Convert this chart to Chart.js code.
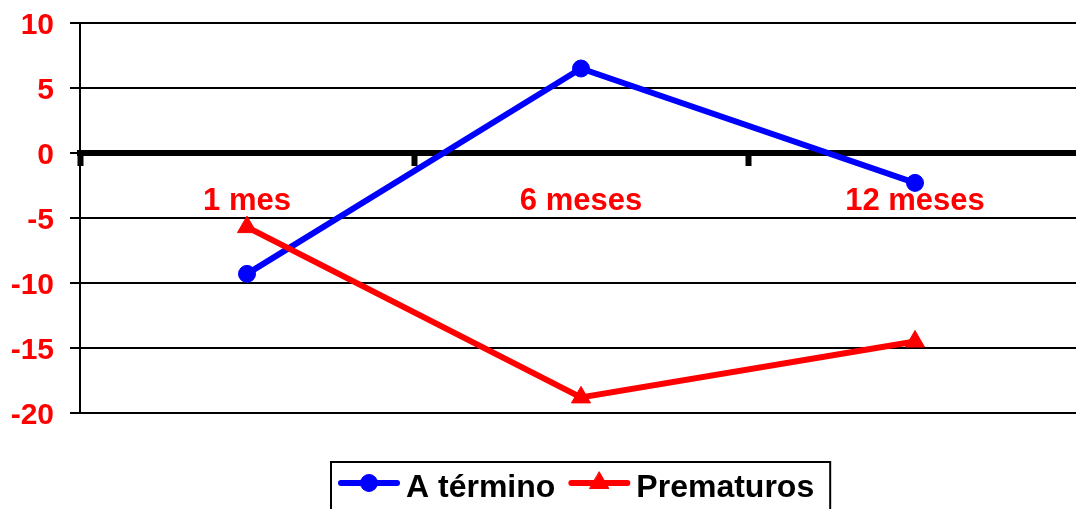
<!DOCTYPE html>
<html>
<head>
<meta charset="utf-8">
<script src="https://cdn.jsdelivr.net/npm/chart.js@4/dist/chart.umd.min.js"></script>
<style>
  html, body { margin: 0; padding: 0; background: #fff; overflow: hidden; width: 1076px; height: 509px; }
  #wrap { width: 1082px; height: 509px; }
</style>
</head>
<body>
<div id="wrap"><canvas id="c" width="1082" height="509"></canvas></div>
<script>
// Data
const categories = ['1 mes', '6 meses', '12 meses'];
const aTermino = [-9.3, 6.5, -2.3];
const prematuros = [-5.7, -18.8, -14.5];
const seriesNames = ['A término', 'Prematuros'];
const yMin = -20, yMax = 10, yStep = 5;

const FONT = '"Liberation Sans", Arial, sans-serif';
const BLUE = '#0000FF';
const RED = '#FF0000';

// Boxed legend under the plot: line sample with marker, then the series name
const boxedLegend = {
  id: 'boxedLegend',
  afterDraw(chart) {
    const ctx = chart.ctx;
    const area = chart.chartArea;
    ctx.save();
    ctx.font = 'bold 32px ' + FONT;
    const items = chart.data.datasets.map(ds => ({
      ds, w: ctx.measureText(ds.label).width
    }));
    const lineW = 62, padL = 7, gapText = 6, gapItem = 13, padR = 16;
    let total = padL + padR;
    items.forEach((it, i) => { total += lineW + gapText + it.w + (i < items.length - 1 ? gapItem : 0); });
    const cx = (area.left + area.right) / 2;
    const left = Math.round(cx - total / 2);
    const top = area.bottom + 49;
    ctx.lineWidth = 2;
    ctx.strokeStyle = '#000';
    ctx.strokeRect(left, top, total, 70);
    let x = left + padL;
    const ly = top + 21;
    items.forEach(it => {
      const ds = it.ds;
      ctx.beginPath();
      ctx.lineCap = 'round';
      ctx.lineWidth = 6;
      ctx.strokeStyle = ds.borderColor;
      ctx.moveTo(x + 3, ly);
      ctx.lineTo(x + lineW - 3, ly);
      ctx.stroke();
      ctx.fillStyle = ds.backgroundColor;
      ctx.strokeStyle = ds.borderColor;
      ctx.lineWidth = 1;
      ctx.beginPath();
      const mx = x + lineW / 2;
      if (ds.pointStyle === 'triangle') {
        const r = 11;
        ctx.moveTo(mx, ly - r);
        ctx.lineTo(mx + r * Math.sin(2 * Math.PI / 3), ly + r / 2);
        ctx.lineTo(mx - r * Math.sin(2 * Math.PI / 3), ly + r / 2);
        ctx.closePath();
      } else {
        ctx.arc(mx, ly, 8.5, 0, Math.PI * 2);
      }
      ctx.fill();
      ctx.stroke();
      x += lineW + gapText;
      ctx.fillStyle = '#000';
      ctx.textBaseline = 'alphabetic';
      ctx.textAlign = 'left';
      ctx.fillText(ds.label, x, top + 35);
      x += it.w + gapItem;
    });
    ctx.restore();
  }
};

new Chart(document.getElementById('c'), {
  type: 'line',
  data: {
    labels: categories,
    datasets: [
      {
        label: seriesNames[0],
        data: aTermino,
        borderColor: BLUE,
        backgroundColor: BLUE,
        borderWidth: 6,
        pointStyle: 'circle',
        pointRadius: 8.5,
        pointBorderWidth: 1,
        pointHoverRadius: 8.5,
        tension: 0,
        order: 2
      },
      {
        label: seriesNames[1],
        data: prematuros,
        borderColor: RED,
        backgroundColor: RED,
        borderWidth: 6,
        pointStyle: 'triangle',
        pointRadius: 11,
        pointBorderWidth: 1,
        pointHoverRadius: 11,
        tension: 0,
        order: 1
      }
    ]
  },
  options: {
    responsive: false,
    animation: false,
    devicePixelRatio: 1,
    layout: { autoPadding: false, padding: { top: 23, left: 0, right: 0, bottom: 96 } },
    plugins: {
      legend: { display: false },
      tooltip: { enabled: false }
    },
    scales: {
      x: {
        position: { y: 0 },
        offset: true,
        afterFit(s) { s.paddingLeft = 0; s.paddingRight = 0; },
        grid: {
          offset: true,
          drawOnChartArea: false,
          drawTicks: true,
          tickLength: 10,
          tickWidth: 6,
          tickColor: '#000'
        },
        border: { display: true, color: '#000', width: 6 },
        ticks: {
          color: RED,
          font: { family: FONT, size: 31, weight: 'bold' },
          padding: 20,
          maxRotation: 0
        }
      },
      y: {
        min: yMin,
        max: yMax,
        afterFit(s) { s.width = 80; s.paddingTop = 0; s.paddingBottom = 0; },
        ticks: {
          stepSize: yStep,
          color: RED,
          font: { family: FONT, size: 30, weight: 'bold' },
          padding: 16,
          labelOffset: 3
        },
        grid: {
          color: '#000',
          lineWidth: ctx => (ctx.tick && ctx.tick.value === 0 ? 6 : 2),
          tickLength: 10,
          tickColor: '#000',
          tickWidth: 2
        },
        border: { display: true, color: '#000', width: 2 }
      }
    }
  },
  plugins: [boxedLegend]
});
</script>
</body>
</html>
